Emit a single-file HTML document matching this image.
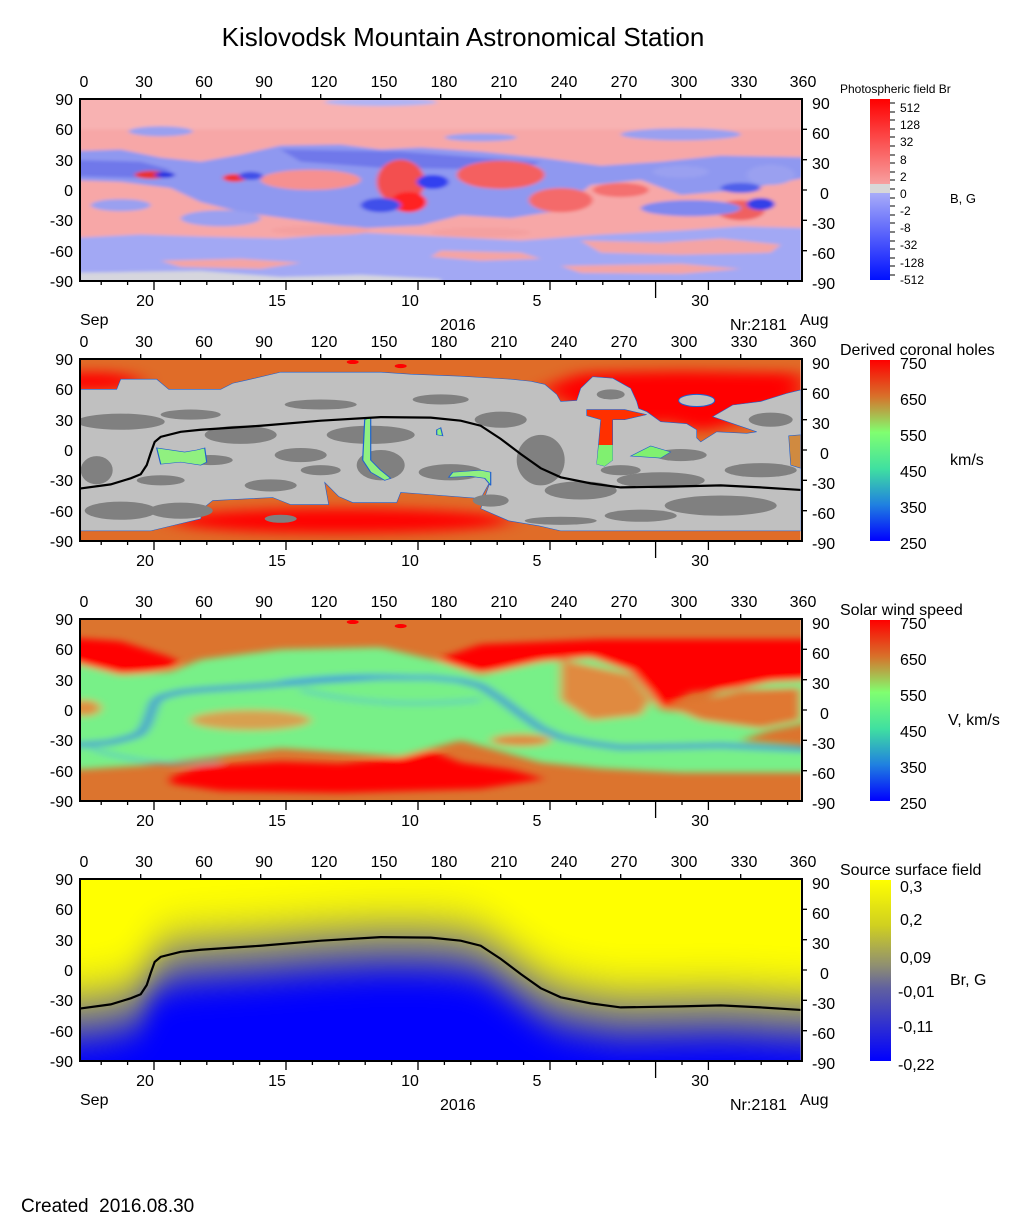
<!DOCTYPE html>
<html><head><meta charset="utf-8"><style>
html,body{margin:0;padding:0;background:#fff;}
svg{display:block;font-family:"Liberation Sans",Arial,sans-serif;}
</style></head><body>
<svg width="1020" height="1223" viewBox="0 0 1020 1223" xmlns="http://www.w3.org/2000/svg">
<defs>
<clipPath id="pc"><rect x="0" y="0" width="360" height="180"/></clipPath>
<filter id="b1" x="-50%" y="-50%" width="200%" height="200%"><feGaussianBlur stdDeviation="1.2 1.6"/></filter>
<filter id="b3" x="-50%" y="-50%" width="200%" height="200%"><feGaussianBlur stdDeviation="2.5 3.5"/></filter>
<filter id="b4" x="-50%" y="-50%" width="200%" height="200%"><feGaussianBlur stdDeviation="8 28"/></filter>
<filter id="b4b" x="-50%" y="-50%" width="200%" height="200%"><feGaussianBlur stdDeviation="5 14"/></filter>
<filter id="b5" x="-50%" y="-50%" width="200%" height="200%"><feGaussianBlur stdDeviation="6 6"/></filter>
<linearGradient id="cb1" x1="0" y1="0" x2="0" y2="1">
<stop offset="0" stop-color="#ff0000"/><stop offset="0.47" stop-color="#f7a0a0"/><stop offset="0.47" stop-color="#d8d8d8"/><stop offset="0.52" stop-color="#d8d8d8"/><stop offset="0.52" stop-color="#a8acf8"/><stop offset="1" stop-color="#0010ff"/></linearGradient>
<linearGradient id="cb2" x1="0" y1="0" x2="0" y2="1">
<stop offset="0" stop-color="#ff0000"/><stop offset="0.2" stop-color="#d8702a"/><stop offset="0.4" stop-color="#80ff70"/><stop offset="0.6" stop-color="#40e0a0"/><stop offset="0.8" stop-color="#2080e0"/><stop offset="1" stop-color="#0000ff"/></linearGradient>
<linearGradient id="cb4" x1="0" y1="0" x2="0" y2="1">
<stop offset="0" stop-color="#ffff00"/><stop offset="0.25" stop-color="#d0d020"/><stop offset="0.47" stop-color="#909070"/><stop offset="0.6" stop-color="#6060a0"/><stop offset="0.8" stop-color="#3030d0"/><stop offset="1" stop-color="#0000ff"/></linearGradient>
<g id="ax">
<rect x="80" y="0" width="722" height="182" fill="none" stroke="#000" stroke-width="2"/>
<path d="M140.7 0v-5M200.7 0v-5M260.7 0v-5M320.7 0v-5M380.7 0v-5M440.7 0v-5M500.7 0v-5M560.7 0v-5M620.7 0v-5M680.7 0v-5M740.7 0v-5 M802 30.3h5M802 60.7h5M802 91h5M802 121.3h5M802 151.7h5 M154 182v9M286 182v9M418 182v9M550 182v9M708.4 182v9M655.6 182v17 M101.2 182v4M127.6 182v4M180.4 182v4M206.8 182v4M233.2 182v4M259.6 182v4M312.4 182v4M338.8 182v4M365.2 182v4M391.6 182v4M444.4 182v4M470.8 182v4M497.2 182v4M523.6 182v4M576.4 182v4M602.8 182v4M629.2 182v4M682 182v4M734.8 182v4M761.2 182v4M787.6 182v4" stroke="#000" stroke-width="1.3" fill="none"/>
<g font-size="16" fill="#000">
<g text-anchor="middle"><text x="84" y="-12">0</text><text x="144" y="-12">30</text><text x="204" y="-12">60</text><text x="264" y="-12">90</text><text x="324" y="-12">120</text><text x="384" y="-12">150</text><text x="444" y="-12">180</text><text x="504" y="-12">210</text><text x="564" y="-12">240</text><text x="624" y="-12">270</text><text x="684" y="-12">300</text><text x="744" y="-12">330</text><text x="803" y="-12">360</text>
<text x="145" y="207">20</text><text x="277" y="207">15</text><text x="410" y="207">10</text><text x="537" y="207">5</text><text x="700" y="207">30</text></g>
<g text-anchor="end"><text x="73" y="6">90</text><text x="73" y="36">60</text><text x="73" y="67">30</text><text x="73" y="97">0</text><text x="73" y="127">-30</text><text x="73" y="158">-60</text><text x="73" y="188">-90</text></g>
<g><text x="812" y="10">90</text><text x="812" y="40">60</text><text x="812" y="70">30</text><text x="820" y="100">0</text><text x="812" y="130">-30</text><text x="812" y="160">-60</text><text x="812" y="190">-90</text></g>
</g>
</g>
</defs>

<text x="463" y="46" font-size="26" text-anchor="middle">Kislovodsk Mountain Astronomical Station</text>

<!-- PANEL 1 -->
<g transform="translate(80.7,99) scale(2,1.0111)" clip-path="url(#pc)">
<g filter="url(#b1)">
<rect x="-10" y="-10" width="380" height="200" fill="#f7a7a7"/>
<rect x="-10" y="-10" width="380" height="40" fill="#f8b2b2"/>
<path d="M-10,52 L20,50 40,58 60,62 80,55 100,46 130,45 150,50 170,48 200,52 230,58 260,66 290,62 320,56 370,58 L370,75 330,90 300,95 280,80 255,85 240,110 215,118 190,115 170,125 140,128 110,120 80,112 60,102 45,88 20,82 -10,80 Z" fill="#8f98f0"/>
<path d="M-10,60 L30,62 45,70 30,78 -10,76Z M100,50 L160,52 200,58 230,62 220,70 150,68 110,62Z" fill="#7078ea"/>
<path d="M-10,138 L30,134 60,136 100,138 140,132 180,136 220,140 260,134 300,130 330,126 370,128 L370,190 -10,190Z" fill="#a2a8f4"/>
<path d="M250,140 L290,142 320,138 350,144 345,152 300,154 260,152Z M180,150 L220,152 230,158 200,160 175,156Z M40,160 L80,158 110,162 90,168 50,166Z M240,165 L300,163 330,168 300,173 250,172Z" fill="#f4a4a4"/>
<path d="M-10,172 L60,170 100,176 140,174 180,178 180,190 -10,190Z" fill="#d6d6de"/>
<ellipse cx="160" cy="82" rx="12" ry="22" fill="#f35050"/>
<ellipse cx="164" cy="102" rx="9" ry="10" fill="#f22"/>
<ellipse cx="176" cy="82" rx="8" ry="7" fill="#3040f0"/>
<ellipse cx="210" cy="75" rx="22" ry="14" fill="#f46060"/>
<ellipse cx="240" cy="100" rx="16" ry="12" fill="#f46a6a"/>
<ellipse cx="115" cy="80" rx="25" ry="10" fill="#f69090"/>
<ellipse cx="35" cy="75" rx="8" ry="4" fill="#e83030"/>
<ellipse cx="42" cy="75" rx="5" ry="3" fill="#2030e0"/>
<ellipse cx="77" cy="78" rx="6" ry="4" fill="#f03030"/>
<ellipse cx="85" cy="76" rx="6" ry="4" fill="#4050e8"/>
<ellipse cx="150" cy="105" rx="10" ry="7" fill="#4050ea"/>
<ellipse cx="330" cy="110" rx="12" ry="10" fill="#f06060"/>
<ellipse cx="340" cy="104" rx="7" ry="6" fill="#3040e8"/>
<ellipse cx="305" cy="108" rx="25" ry="8" fill="#8088ee"/>
<ellipse cx="330" cy="88" rx="10" ry="5" fill="#5060ea"/>
<ellipse cx="300" cy="72" rx="14" ry="6" fill="#9aa0f0"/>
<ellipse cx="345" cy="75" rx="12" ry="10" fill="#9aa0f0"/>
<ellipse cx="270" cy="90" rx="14" ry="7" fill="#f47070"/>
<ellipse cx="40" cy="32" rx="16" ry="5" fill="#9aa0f0"/>
<ellipse cx="300" cy="35" rx="30" ry="6" fill="#9aa0f0"/>
<ellipse cx="200" cy="38" rx="18" ry="4" fill="#9aa0f0"/>
<ellipse cx="150" cy="3" rx="28" ry="4" fill="#b0b4f4"/>
<ellipse cx="70" cy="118" rx="20" ry="8" fill="#9aa0f0"/>
<ellipse cx="20" cy="105" rx="15" ry="6" fill="#9aa0f0"/>
<ellipse cx="200" cy="132" rx="25" ry="5" fill="#f4a0a0"/>
<ellipse cx="120" cy="130" rx="25" ry="5" fill="#f4a0a0"/>
</g></g>
<use href="#ax" y="99"/>
<g font-size="16"><text x="80" y="325">Sep</text><text x="440" y="330">2016</text><text x="730" y="330">Nr:2181</text><text x="800" y="325">Aug</text></g>

<!-- PANEL 2 -->
<g transform="translate(80.7,359) scale(2,1.0111)" clip-path="url(#pc)">
<rect x="0" y="0" width="360" height="180" fill="#e06c28"/>
<g filter="url(#b5)">
<ellipse cx="5" cy="22" rx="25" ry="9" fill="#ff0000"/>
<ellipse cx="130" cy="160" rx="85" ry="12" fill="#ff0000"/>
<path d="M230,30 L250,14 300,12 360,14 360,40 330,62 310,72 290,60 270,80 250,50Z" fill="#ff0000"/>
</g>
<ellipse cx="136" cy="3" rx="3" ry="2" fill="#f00"/><ellipse cx="160" cy="7" rx="3" ry="2" fill="#f00"/>
<path d="M0,30 L18,30 20,20 38,20 44,30 70,30 76,24 85,20 100,13 150,13 165,15 190,17 215,20 225,22 232,25 238,35 240,42 248,41 250,29 256,17.5 266,19 275,29 278,42 279,49 283,52 290,62 303,64 308,70 308,78 310,82 318,72 333,73.5 338,72 316,57 326,45.5 340,42 353,34 360,30.6 L360,170 240,170 229,165 214,160 200,148 205,120 200,138 174,134 160,132 158,142 136,142 129,136 122,122 124,144 105,144 96,137 66,140 61,148 60,158 35,170 0,170Z" fill="#c0c0c0" stroke="#2060d0" stroke-width="0.6" vector-effect="non-scaling-stroke"/>
<ellipse cx="308" cy="41" rx="9" ry="6" fill="#c0c0c0" stroke="#2060d0" stroke-width="1" vector-effect="non-scaling-stroke"/>
<g fill="#808080">
<ellipse cx="20" cy="62" rx="22" ry="8"/><ellipse cx="55" cy="55" rx="15" ry="5"/><ellipse cx="8" cy="110" rx="8" ry="14"/>
<ellipse cx="50" cy="150" rx="16" ry="8"/><ellipse cx="20" cy="150" rx="18" ry="9"/>
<ellipse cx="80" cy="75" rx="18" ry="9"/><ellipse cx="110" cy="95" rx="13" ry="7"/><ellipse cx="95" cy="125" rx="13" ry="6"/>
<ellipse cx="145" cy="75" rx="22" ry="9"/><ellipse cx="150" cy="105" rx="12" ry="15"/><ellipse cx="185" cy="112" rx="16" ry="8"/>
<ellipse cx="120" cy="45" rx="18" ry="5"/><ellipse cx="180" cy="40" rx="14" ry="5"/><ellipse cx="210" cy="60" rx="13" ry="8"/>
<ellipse cx="230" cy="100" rx="12" ry="25"/><ellipse cx="205" cy="140" rx="9" ry="6"/>
<ellipse cx="250" cy="130" rx="18" ry="9"/><ellipse cx="290" cy="120" rx="22" ry="8"/><ellipse cx="320" cy="145" rx="28" ry="10"/>
<ellipse cx="280" cy="155" rx="18" ry="6"/><ellipse cx="340" cy="110" rx="18" ry="7"/><ellipse cx="300" cy="95" rx="13" ry="6"/>
<ellipse cx="265" cy="35" rx="7" ry="5"/><ellipse cx="345" cy="60" rx="11" ry="7"/><ellipse cx="65" cy="100" rx="11" ry="5"/>
<ellipse cx="240" cy="160" rx="18" ry="4"/><ellipse cx="100" cy="158" rx="8" ry="4"/>
<ellipse cx="40" cy="120" rx="12" ry="5"/><ellipse cx="270" cy="110" rx="10" ry="5"/><ellipse cx="120" cy="110" rx="10" ry="5"/>
</g>
<path d="M253,50 L272,50 283,55 272,60 266,60 266,100 262,106 258,104 260,60 253,56Z" fill="#ff3000" stroke="#2060d0" stroke-width="0.6" vector-effect="non-scaling-stroke"/>
<path d="M259,85 L266,85 266,100 262,106 258,104Z" fill="#80f070"/>
<path d="M275,96 L285,86 295,92 290,98Z" fill="#80f070" stroke="#2060d0" stroke-width="0.6" vector-effect="non-scaling-stroke"/>
<path d="M354,76 L360,75 360,108 355,105Z" fill="#d08a40" stroke="#2060d0" stroke-width="0.6" vector-effect="non-scaling-stroke"/>
<g fill="#90f080" stroke="#2060d0" stroke-width="0.6" vector-effect="non-scaling-stroke">
<path d="M38,88 L52,92 58,90 62,88 63,102 60,105 50,102 40,104Z"/>
<path d="M142,60 L145,58 145,100 150,110 155,118 152,120 145,112 141,100Z"/>
<path d="M186,112 L200,110 205,112 205,125 202,118 195,116 184,117Z"/>
<path d="M178,70 L180,68 181,76 178,75Z"/>
</g>
<path d="M0,128 L15,124 25,118 30,114 33,105 35,93 37,82 40,77 50,72 60,70 90,66 120,61 150,57.5 175,58 190,61 200,66 210,79 220,94 230,108 240,117 255,123 270,127 300,126 320,125 340,127 360,129.5" fill="none" stroke="#000" stroke-width="2.2" vector-effect="non-scaling-stroke"/>
</g>
<use href="#ax" y="359"/>

<!-- PANEL 3 -->
<g transform="translate(80.7,619) scale(2,1.0111)" clip-path="url(#pc)">
<rect x="0" y="0" width="360" height="180" fill="#dc742e"/>
<g filter="url(#b3)">
<path d="M-10,18 L20,22 45,38 50,45 30,55 -10,60Z" fill="#ff0000"/>
<path d="M175,42 L200,25 260,20 370,20 370,62 330,68 305,72 292,88 282,75 276,55 250,48 220,52 195,52Z" fill="#ff0000"/>
<path d="M-10,40 L20,55 45,52 60,40 100,30 150,28 180,42 200,55 230,42 255,38 275,52 285,75 290,90 300,92 320,72 345,62 370,60 L370,100 345,110 330,120 360,125 370,128 370,152 300,152 260,148 230,142 190,120 175,128 160,136 130,132 100,128 60,138 30,145 -10,150Z" fill="#78f088"/>
<path d="M45,156 L60,146 100,141 130,143 160,137 175,130 190,142 215,149 232,158 200,168 130,172 70,170 45,163Z" fill="#ff0000"/>
<ellipse cx="2" cy="88" rx="8" ry="8" fill="#e09040"/>
<ellipse cx="85" cy="100" rx="30" ry="10" fill="#d8a050"/>
<path d="M240,40 L275,55 285,80 280,95 255,100 240,80Z" fill="#e08a40"/>
<path d="M292,85 L310,80 330,70 360,68 360,100 340,108 310,100Z" fill="#e07830"/>
<ellipse cx="220" cy="120" rx="15" ry="6" fill="#e08a40"/>
<path d="M-10,126 L15,122 25,117 30,113 33,104 35,93 37,82 40,77 50,72 60,70 90,66 120,61 150,57.5 175,58 190,61 200,66 210,79 220,94 230,108 240,117 255,123 270,127 300,126 320,125 340,127 370,129.5" fill="none" stroke="#2a7ae0" stroke-width="4"/>
<path d="M100,62 Q150,50 190,62 M110,70 Q150,90 200,80 M5,128 Q40,150 70,140" fill="none" stroke="#40a8e0" stroke-width="2"/>
</g>
<ellipse cx="136" cy="3" rx="3" ry="2" fill="#f00"/><ellipse cx="160" cy="7" rx="3" ry="2" fill="#f00"/>
</g>
<use href="#ax" y="619"/>

<!-- PANEL 4 -->
<g transform="translate(80.7,879) scale(2,1.0111)" clip-path="url(#pc)">
<rect x="-40" y="-100" width="440" height="400" fill="#ffff00"/>
<g filter="url(#b4)" opacity="0.8">
<path d="M-60,128 L0,128 15,124 25,118 30,114 33,105 35,93 37,82 40,77 50,72 60,70 90,66 120,61 150,57.5 175,58 190,61 200,66 210,79 220,94 230,108 240,117 255,123 270,127 300,126 320,125 340,127 360,129.5 420,130 L420,320 -60,320Z" fill="#0000ff"/>
</g>
<g filter="url(#b4b)" transform="translate(0,40)">
<path d="M-60,128 L0,128 15,124 25,118 30,114 33,105 35,93 37,82 40,77 50,72 60,70 90,66 120,61 150,57.5 175,58 190,61 200,66 210,79 220,94 230,108 240,117 255,123 270,127 300,126 320,125 340,127 360,129.5 420,130 L420,320 -60,320Z" fill="#0000ff"/>
</g>
<path d="M0,128 L15,124 25,118 30,114 33,105 35,93 37,82 40,77 50,72 60,70 90,66 120,61 150,57.5 175,58 190,61 200,66 210,79 220,94 230,108 240,117 255,123 270,127 300,126 320,125 340,127 360,129.5" fill="none" stroke="#000" stroke-width="2.2" vector-effect="non-scaling-stroke"/>
</g>
<use href="#ax" y="879"/>
<g font-size="16"><text x="80" y="1105">Sep</text><text x="440" y="1110">2016</text><text x="730" y="1110">Nr:2181</text><text x="800" y="1105">Aug</text></g>

<!-- Colorbars -->
<rect x="870" y="99" width="20" height="181" fill="url(#cb1)"/>
<path d="M890 103h5M890 112h5M890 120h5M890 129h5M890 137h5M890 146h5M890 155h5M890 163h5M890 172h5M890 180h5M890 189h5M890 198h5M890 206h5M890 215h5M890 223h5M890 232h5M890 241h5M890 249h5M890 258h5M890 266h5M890 275h5" stroke="#000"/>
<g font-size="12"><text x="840" y="93">Photospheric field Br</text>
<text x="900" y="112">512</text><text x="900" y="129">128</text><text x="900" y="146">32</text><text x="900" y="164">8</text><text x="900" y="181">2</text><text x="900" y="198">0</text><text x="900" y="215">-2</text><text x="900" y="232">-8</text><text x="900" y="249">-32</text><text x="900" y="267">-128</text><text x="900" y="284">-512</text></g>
<text x="950" y="203" font-size="13">B, G</text>

<rect x="870" y="360" width="20" height="181" fill="url(#cb2)"/>
<g font-size="16"><text x="840" y="355">Derived coronal holes</text>
<text x="900" y="369">750</text><text x="900" y="405">650</text><text x="900" y="441">550</text><text x="900" y="477">450</text><text x="900" y="513">350</text><text x="900" y="549">250</text>
<text x="950" y="465">km/s</text></g>

<rect x="870" y="620" width="20" height="181" fill="url(#cb2)"/>
<g font-size="16"><text x="840" y="615">Solar wind speed</text>
<text x="900" y="629">750</text><text x="900" y="665">650</text><text x="900" y="701">550</text><text x="900" y="737">450</text><text x="900" y="773">350</text><text x="900" y="809">250</text>
<text x="948" y="725">V, km/s</text></g>

<rect x="870" y="880" width="21" height="181" fill="url(#cb4)"/>
<g font-size="16"><text x="840" y="875">Source surface field</text>
<text x="900" y="892">0,3</text><text x="900" y="925">0,2</text><text x="900" y="963">0,09</text><text x="898" y="997">-0,01</text><text x="898" y="1032">-0,11</text><text x="898" y="1070">-0,22</text>
<text x="950" y="985">Br, G</text></g>

<text x="21" y="1212" font-size="19">Created&#160; 2016.08.30</text>
</svg>
</body></html>
